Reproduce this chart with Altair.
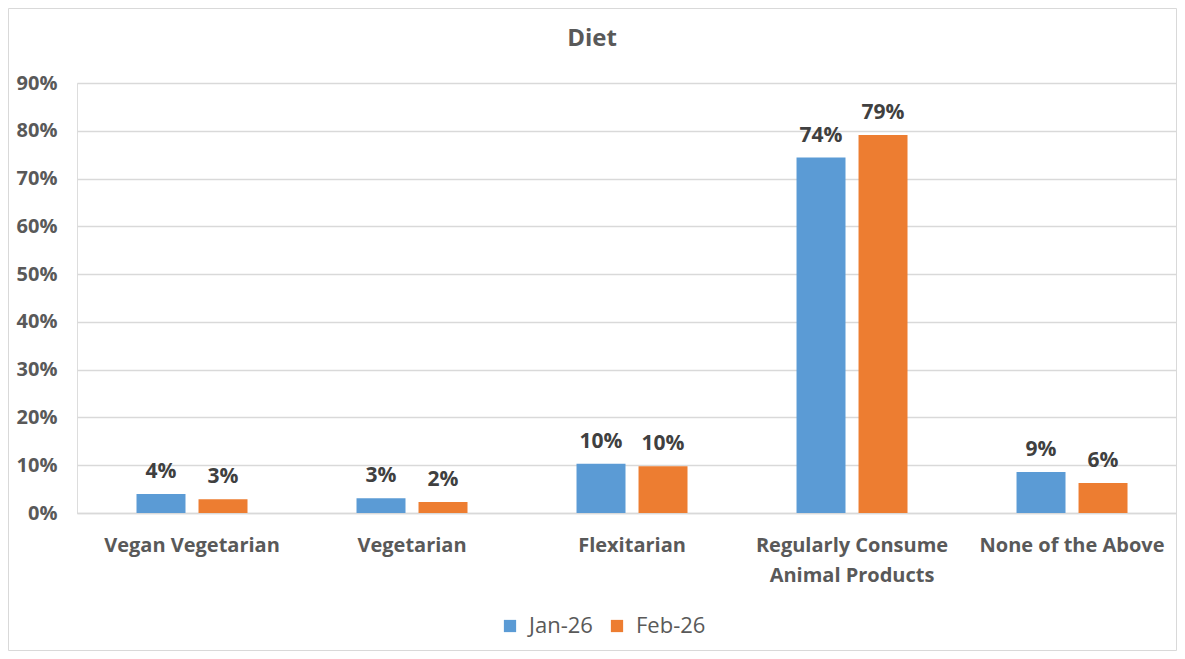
import altair as alt
import pandas as pd

categories = ["Vegan Vegetarian", "Vegetarian", "Flexitarian",
              "Regularly Consume Animal Products", "None of the Above"]
series = ["Jan-26", "Feb-26"]
jan_values = [0.040, 0.031, 0.103, 0.744, 0.086]
feb_values = [0.029, 0.023, 0.098, 0.791, 0.063]
jan_labels = ["4%", "3%", "10%", "74%", "9%"]
feb_labels = ["3%", "2%", "10%", "79%", "6%"]
colors = ["#5B9BD5", "#ED7D31"]

rows = []
for c, v, l in zip(categories, jan_values, jan_labels):
    rows.append({"Diet": c, "Series": "Jan-26", "Value": v, "Label": l})
for c, v, l in zip(categories, feb_values, feb_labels):
    rows.append({"Diet": c, "Series": "Feb-26", "Value": v, "Label": l})
df = pd.DataFrame(rows)

FONT = "Open Sans"
AXIS_COLOR = "#595959"

x_enc = alt.X("Diet:N", sort=categories, title=None,
              scale=alt.Scale(paddingInner=0.4955, paddingOuter=0.2477, align=0.546),
              axis=alt.Axis(labelAngle=0, labelFont=FONT, labelFontSize=20,
                            labelFontWeight="bold", labelColor=AXIS_COLOR,
                            labelPadding=22, labelLineHeight=30, labelLimit=0,
                            labelExpr="datum.label == 'Regularly Consume Animal Products' ? ['Regularly Consume', 'Animal Products'] : datum.label",
                            ticks=False, domain=True, domainColor="#d9d9d9",
                            domainWidth=1.5, grid=False))
xo_enc = alt.XOffset("Series:N", sort=series,
                     scale=alt.Scale(paddingInner=0.21, paddingOuter=0))
y_enc = alt.Y("Value:Q", title=None,
              scale=alt.Scale(domain=[0, 0.9], nice=False),
              axis=alt.Axis(format=".0%", values=[i / 10 for i in range(10)],
                            labelFont=FONT, labelFontSize=20, labelFontWeight="bold",
                            labelColor=AXIS_COLOR, labelPadding=20, ticks=False,
                            domain=False, gridColor="#d9d9d9", gridWidth=1.5))

bars = alt.Chart(df).mark_bar().encode(
    x=x_enc, xOffset=xo_enc, y=y_enc,
    color=alt.Color("Series:N", sort=series,
                    scale=alt.Scale(domain=series, range=colors),
                    legend=alt.Legend(title=None, orient="none", direction="horizontal",
                                      legendX=422, legendY=532,
                                      symbolType="square", symbolSize=150,
                                      labelFont=FONT, labelFontSize=22,
                                      labelColor=AXIS_COLOR, columnPadding=13,
                                      symbolStrokeWidth=0, labelOffset=8)),
)

texts = alt.Chart(df).mark_text(baseline="alphabetic", dy=-16, font=FONT,
                                fontSize=21, fontWeight="bold",
                                color="#404040").encode(
    x=alt.X("Diet:N", sort=categories),
    xOffset=alt.XOffset("Series:N", sort=series),
    y="Value:Q",
    text="Label:N",
)

frame = alt.Chart(alt.Data(values=[{}])).mark_rect(
    fill=None, stroke="#d9d9d9", strokeWidth=1
).encode(x=alt.value(-68.5), x2=alt.value(1099.5),
         y=alt.value(-74.5), y2=alt.value(567.5))

chart = alt.layer(bars, texts, frame).properties(
    width=1100, height=430,
    autosize=alt.AutoSizeParams(type="none"),
    padding={"left": 69, "top": 75, "right": 0, "bottom": 138},
    title=alt.TitleParams("Diet", font=FONT, fontSize=24, fontWeight="bold",
                          color=AXIS_COLOR, anchor="middle", dx=-35, offset=-43),
).configure_view(stroke=None).configure(background="white")

chart.save("out.html", embed_options={"renderer": "svg", "actions": False})
